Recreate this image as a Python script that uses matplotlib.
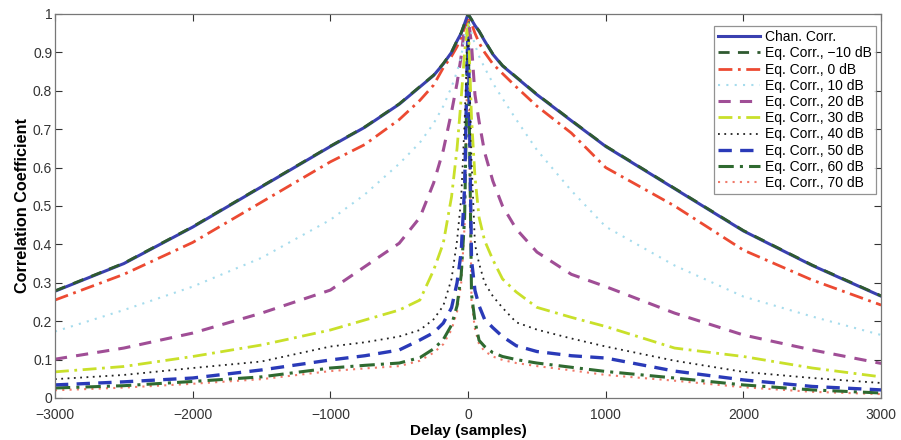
import matplotlib
matplotlib.use("Agg")
import matplotlib.pyplot as plt

plt.rcParams['font.family'] = ['Liberation Sans', 'DejaVu Sans']

delay = [-3000, -2500, -2000, -1500, -1000, -750, -500, -350, -250, -180, -120, -80, -50, -25, 0,
         25, 50, 80, 120, 180, 250, 350, 500, 750, 1000, 1500, 2000, 2500, 3000]

chan = [.278, .35, .445, .55, .655, .705, .765, .81, .84, .87, .90, .93, .95, .975, 1.0,
        .985, .97, .955, .93, .895, .865, .835, .79, .722, .655, .545, .435, .345, .265]
eq_m10 = [.279, .351, .446, .551, .656, .706, .766, .811, .841, .871, .901, .931, .951, .976, 1.0,
          .986, .971, .956, .931, .896, .866, .836, .791, .723, .656, .546, .436, .346, .266]
eq_0 = [.255, .322, .405, .51, .615, .66, .725, .775, .815, .86, .89, .915, .94, .965, .995,
        .975, .95, .925, .90, .87, .845, .81, .76, .69, .60, .50, .385, .307, .242]
eq_10 = [.173, .229, .29, .365, .464, .53, .61, .665, .715, .76, .81, .85, .89, .94, .99,
         .95, .92, .89, .86, .82, .78, .725, .646, .54, .446, .345, .264, .212, .164]
eq_20 = [.101, .13, .169, .221, .281, .342, .403, .47, .56, .645, .745, .82, .89, .97, .995,
         .92, .79, .72, .64, .565, .50, .44, .38, .322, .29, .221, .164, .125, .09]
eq_30 = [.068, .082, .108, .138, .177, .203, .229, .255, .333, .403, .524, .65, .78, .9, .99,
         .73, .576, .47, .41, .36, .31, .276, .236, .21, .186, .13, .108, .078, .055]
eq_40 = [.049, .06, .078, .095, .134, .145, .16, .177, .205, .24, .31, .41, .52, .72, .99,
         .62, .40, .35, .30, .265, .235, .197, .178, .155, .134, .097, .068, .052, .039]
eq_50 = [.034, .042, .052, .073, .099, .11, .125, .151, .17, .195, .235, .30, .38, .55, .99,
         .36, .28, .24, .205, .183, .16, .136, .121, .11, .104, .07, .047, .03, .021]
eq_60 = [.026, .032, .043, .055, .078, .085, .091, .105, .128, .152, .19, .24, .32, .47, .99,
         .27, .2, .15, .134, .118, .108, .1, .091, .08, .069, .052, .034, .021, .013]
eq_70 = [.02, .027, .037, .049, .07, .077, .083, .097, .118, .14, .178, .225, .3, .45, .99,
         .25, .18, .14, .122, .108, .099, .091, .083, .072, .06, .045, .028, .016, .01]

labels = ['Chan. Corr.', 'Eq. Corr., \u221210 dB', 'Eq. Corr., 0 dB', 'Eq. Corr., 10 dB',
          'Eq. Corr., 20 dB', 'Eq. Corr., 30 dB', 'Eq. Corr., 40 dB', 'Eq. Corr., 50 dB',
          'Eq. Corr., 60 dB', 'Eq. Corr., 70 dB']
series = [chan, eq_m10, eq_0, eq_10, eq_20, eq_30, eq_40, eq_50, eq_60, eq_70]

styles = [
    dict(color='#3a40b0', ls='-', lw=2.2),
    dict(color='#2f5a30', ls=(0, (4, 3)), lw=2.0),
    dict(color='#ec4a32', ls=(0, (5, 2, 1, 2)), lw=2.0),
    dict(color='#a6dced', ls=(0, (1, 3)), lw=1.5),
    dict(color='#a04e96', ls=(0, (4, 3)), lw=2.2),
    dict(color='#c9e02a', ls=(0, (5, 2, 1, 2)), lw=2.0),
    dict(color='#222222', ls=(0, (1, 2.5)), lw=1.3),
    dict(color='#2a3ab8', ls=(0, (4, 2.5)), lw=2.4),
    dict(color='#2f6a30', ls=(0, (5, 2, 1, 2)), lw=2.2),
    dict(color='#f07a6a', ls=(0, (1, 2.5)), lw=1.5),
]

fig = plt.figure(figsize=(9.01, 4.40), dpi=100)
ax = fig.add_axes([0.061, 0.0955, 0.917, 0.8727])

order = [9, 8, 7, 6, 5, 4, 3, 2, 0, 1]
handles = {}
for i in order:
    h, = ax.plot(delay, series[i], label=labels[i], **styles[i])
    handles[i] = h

ax.set_xlim(-3000, 3000)
ax.set_ylim(0, 1)
ax.set_xticks([-3000, -2000, -1000, 0, 1000, 2000, 3000])
ax.set_xticklabels(['\u22123000', '\u22122000', '\u22121000', '0', '1000', '2000', '3000'])
ax.set_yticks([0, 0.1, 0.2, 0.3, 0.4, 0.5, 0.6, 0.7, 0.8, 0.9, 1])
ax.set_yticklabels(['0', '0.1', '0.2', '0.3', '0.4', '0.5', '0.6', '0.7', '0.8', '0.9', '1'])
ax.tick_params(direction='in', top=True, right=True, labelsize=10, length=5, width=0.8,
               colors='#333333')
ax.tick_params(axis='x', pad=7)
ax.tick_params(axis='y', pad=2)
for sp in ax.spines.values():
    sp.set_color('#777777')
    sp.set_linewidth(0.9)

ax.set_xlabel('Delay (samples)', fontsize=11, fontweight='bold', labelpad=2)
ax.set_ylabel('Correlation Coefficient', fontsize=11.7, fontweight='bold', labelpad=2)

leg = ax.legend([handles[i] for i in range(10)], labels, loc='upper right',
                bbox_to_anchor=(0.994, 0.969), fontsize=10, frameon=True, fancybox=False,
                edgecolor='#777777', handlelength=3.0, handletextpad=0.4,
                labelspacing=0.16, borderpad=0.3, borderaxespad=0)
leg.get_frame().set_linewidth(0.9)

fig.savefig('out.png', dpi=100)
